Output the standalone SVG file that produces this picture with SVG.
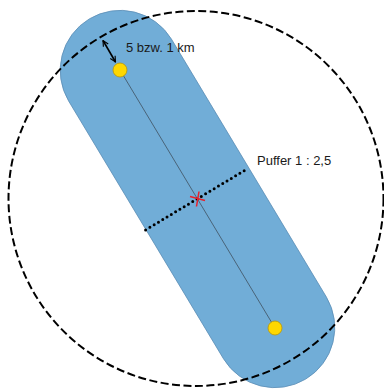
<svg xmlns="http://www.w3.org/2000/svg" width="384" height="391" viewBox="0 0 384 391">
<defs>
<style>
.lbl{font-family:"Liberation Sans",Arial,sans-serif;font-size:13px;fill:#1a1a1a}
.dot{fill:#FFD700;stroke:#B8960A;stroke-width:0.8}
</style>
<marker id="ah" viewBox="0 0 10 10" refX="9" refY="5" markerWidth="7" markerHeight="7" markerUnits="userSpaceOnUse" orient="auto-start-reverse">
<path d="M1,1 L9,5 L1,9" fill="none" stroke="#000" stroke-width="1.6"/>
</marker>
</defs>
<rect width="384" height="391" fill="#fff"/>
<g id="buffer">
<path d="M171.43,39.10 L326.43,297.10 A60,60 0 0 1 223.57,358.90 L68.57,100.90 A60,60 0 0 1 171.43,39.10 Z" fill="#71ADD7" stroke="#5A8DB5" stroke-width="0.8"/>
</g>
<g id="circle">
<circle cx="196" cy="198.5" r="187.5" fill="none" stroke="#000" stroke-width="2" stroke-dasharray="8 3.5"/>
</g>
<g id="connectors">
<line x1="120" y1="70" x2="275" y2="328" stroke="#3F5060" stroke-width="0.8"/>
<line x1="145.6" y1="229.9" x2="248.4" y2="168.1" stroke="#000" stroke-width="3" stroke-linecap="round" stroke-dasharray="0 5"/>
<line x1="103" y1="40.5" x2="115.5" y2="62" stroke="#000" stroke-width="1.6" marker-start="url(#ah)" marker-end="url(#ah)"/>
</g>
<g id="point1"><circle class="dot" cx="120" cy="70" r="7"/></g>
<g id="point2"><circle class="dot" cx="275" cy="328" r="7"/></g>
<g id="center">
<line x1="190" y1="196.5" x2="205" y2="200.5" stroke="#E8202A" stroke-width="1.5"/>
<line x1="199" y1="191.5" x2="196.5" y2="206.5" stroke="#E8202A" stroke-width="1.5"/>
</g>
<g id="label-distance"><text class="lbl" x="126" y="52">5 bzw. 1 km</text></g>
<g id="label-puffer"><text class="lbl" x="257" y="165">Puffer 1 : 2,5</text></g>
</svg>
